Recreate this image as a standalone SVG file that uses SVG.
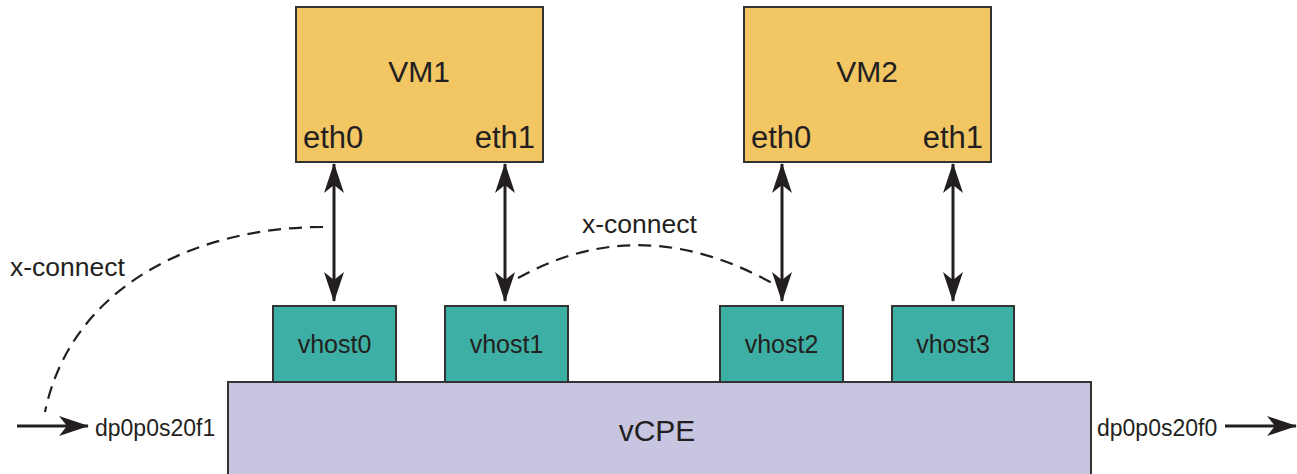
<svg xmlns="http://www.w3.org/2000/svg" width="1297" height="474" viewBox="0 0 1297 474">
  <style>
    text { font-family: "Liberation Sans", Arial, sans-serif; fill: #231f20; }
    .vm { fill: #f2c663; stroke: #333; stroke-width: 2; }
    .vhost { fill: #3eafa4; stroke: #333; stroke-width: 2; }
    .vcpe { fill: #c8c5e1; stroke: #333; stroke-width: 2; }
    .link { stroke: #231f20; stroke-width: 3; fill: none; }
    .xc { stroke: #231f20; stroke-width: 2.2; fill: none; stroke-dasharray: 13 8; }
    .big { font-size: 30px; }
    .port { font-size: 31px; }
    .mid { font-size: 25px; }
    .lbl { font-size: 26.5px; }
    .small { font-size: 23px; }
  </style>
  <defs>
    <marker id="head" viewBox="0 0 30 20" refX="29" refY="10" markerWidth="30" markerHeight="20" markerUnits="userSpaceOnUse" orient="auto-start-reverse">
      <path d="M0,0 L30,10 L0,20 L8,10 Z" fill="#231f20"/>
    </marker>
  </defs>

  <!-- platform -->
  <g id="vcpe">
    <rect class="vcpe" x="228" y="382" width="863" height="100"/>
    <text class="big" x="657" y="441" text-anchor="middle">vCPE</text>
  </g>

  <!-- virtual machines -->
  <g id="vm1">
    <rect class="vm" x="296" y="7" width="247" height="155"/>
    <text class="big" x="419" y="82" text-anchor="middle">VM1</text>
    <text class="port" x="303" y="148">eth0</text>
    <text class="port" x="535" y="148" text-anchor="end">eth1</text>
  </g>
  <g id="vm2">
    <rect class="vm" x="744" y="7" width="247" height="155"/>
    <text class="big" x="867" y="82" text-anchor="middle">VM2</text>
    <text class="port" x="751" y="148">eth0</text>
    <text class="port" x="983" y="148" text-anchor="end">eth1</text>
  </g>

  <!-- vhost ports -->
  <g id="vhost0">
    <rect class="vhost" x="273" y="306" width="123" height="76"/>
    <text class="mid" x="334.5" y="353" text-anchor="middle">vhost0</text>
  </g>
  <g id="vhost1">
    <rect class="vhost" x="445" y="306" width="123" height="76"/>
    <text class="mid" x="506.5" y="353" text-anchor="middle">vhost1</text>
  </g>
  <g id="vhost2">
    <rect class="vhost" x="720" y="306" width="123" height="76"/>
    <text class="mid" x="781.5" y="353" text-anchor="middle">vhost2</text>
  </g>
  <g id="vhost3">
    <rect class="vhost" x="892" y="306" width="122" height="76"/>
    <text class="mid" x="953" y="353" text-anchor="middle">vhost3</text>
  </g>

  <!-- interface labels -->
  <g id="dp-in">
    <text class="small" x="95" y="436">dp0p0s20f1</text>
  </g>
  <g id="dp-out">
    <text class="small" x="1097" y="436">dp0p0s20f0</text>
  </g>

  <!-- connectors -->
  <g id="connectors">
    <line class="link" x1="334" y1="164" x2="334" y2="301" marker-start="url(#head)" marker-end="url(#head)"/>
    <line class="link" x1="505" y1="164" x2="505" y2="301" marker-start="url(#head)" marker-end="url(#head)"/>
    <line class="link" x1="782" y1="164" x2="782" y2="301" marker-start="url(#head)" marker-end="url(#head)"/>
    <line class="link" x1="953" y1="164" x2="953" y2="301" marker-start="url(#head)" marker-end="url(#head)"/>
    <line class="link" x1="17" y1="426" x2="88" y2="426" marker-end="url(#head)"/>
    <line class="link" x1="1225" y1="426" x2="1296" y2="426" marker-end="url(#head)"/>
    <path class="xc" d="M323,227 C190,227 70,290 45,412"/>
    <path class="xc" d="M518,278 Q640,210 772,283"/>
    <text class="lbl" x="10" y="276">x-connect</text>
    <text class="lbl" x="582" y="233">x-connect</text>
  </g>
</svg>
